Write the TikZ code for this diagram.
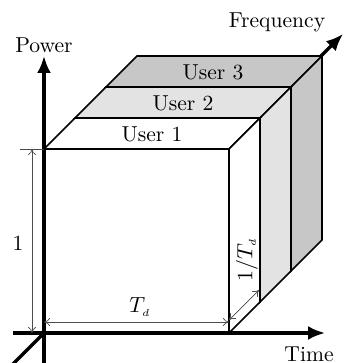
\documentclass[tikz,border=0pt]{standalone}
\usetikzlibrary{arrows.meta}
\begin{document}
\begin{tikzpicture}[x=0.5pt,y=-0.5pt,
  axis/.style={line width=1.6pt,-{Latex[length=8.5pt,width=7pt]}},
  face/.style={draw=black,line width=0.85pt,line join=miter},
  dim/.style={draw=black!70,line width=0.35pt,{To[length=3pt,width=4pt]}-{To[length=3pt,width=4pt]}},
  ext/.style={draw=black!70,line width=0.35pt},
  lbl/.style={font=\fontsize{10.8}{13}\selectfont,inner sep=0pt}]
\useasboundingbox (0,0) rectangle (344,363);
% coordinates
\coordinate (O) at (44,333);
\coordinate (FL) at (12,365);
\coordinate (FT) at (343,34);
% frequency axis (behind the blocks)
\draw[axis] (FL) -- (FT);
% User 3
\draw[face,fill=black!22] (106,87) -- (291,87) -- (322,56) -- (137,56) -- cycle;
\draw[face,fill=black!22] (291,87) -- (322,56) -- (322,240) -- (291,271) -- cycle;
% User 2
\draw[face,fill=black!11] (75,118) -- (260,118) -- (291,87) -- (106,87) -- cycle;
\draw[face,fill=black!11] (260,118) -- (291,87) -- (291,271) -- (260,302) -- cycle;
% User 1
\draw[face,fill=white] (44,149) -- (229,149) -- (260,118) -- (75,118) -- cycle;
\draw[face,fill=white] (229,149) -- (260,118) -- (260,302) -- (229,333) -- cycle;
\draw[face,fill=white] (44,149) rectangle (229,333);
% axes
\coordinate (TL) at (13,333);
\coordinate (TR) at (325,333);
\coordinate (PB) at (44,363);
\coordinate (PT) at (44,56);
\draw[axis] (TL) -- (TR);
\draw[axis] (PB) -- (PT);
% labels
\node[lbl] (power) at (44,45) {Power};
\node[lbl] (freq) at (277,22) {Frequency};
\node[lbl] (time) at (309,354) {Time};
\node[lbl] (u3) at (213,72) {User 3};
\node[lbl] (u2) at (183,103) {User 2};
\node[lbl] (u1) at (152,134) {User 1};
% dimensions
\coordinate (h1a) at (32,149);
\coordinate (h1b) at (32,333);
\coordinate (e1a) at (20,149);
\coordinate (e1b) at (44,149);
\draw[ext] (e1a) -- (e1b);
\draw[dim] (h1a) -- (h1b);
\node[lbl] (one) at (18,243) {1};
\coordinate (ta) at (44,322);
\coordinate (tb) at (229,322);
\draw[dim] (ta) -- (tb);
\node[lbl] (td) at (140,307) {$T_{\scriptscriptstyle d}$};
\coordinate (fa) at (229,320);
\coordinate (fb) at (259,290);
\draw[dim] (fa) -- (fb);
\node[lbl,rotate=90] (ftd) at (247,260) {$1/T_{\scriptscriptstyle d}$};
\end{tikzpicture}
\end{document}
